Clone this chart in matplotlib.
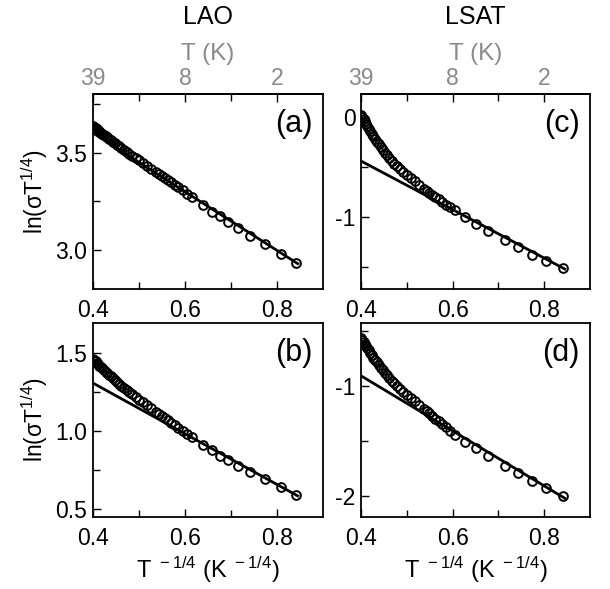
import numpy as np
import matplotlib
matplotlib.use("Agg")
import matplotlib.pyplot as plt
from matplotlib.ticker import MultipleLocator, FixedLocator

plt.rcParams['font.family'] = ['Liberation Sans', 'DejaVu Sans']
plt.rcParams['mathtext.default'] = 'regular'
plt.rcParams['axes.unicode_minus'] = False

# measured temperatures (K)
T_LAO = [2.0, 2.35, 2.8, 3.3, 3.8, 4.35, 4.8, 5.3, 6.0, 7.0,
         7.5, 8, 8.5, 9, 9.5, 10, 10.5, 11, 11.5, 12,
         13, 14, 15, 16, 17, 18, 19, 20, 21, 22, 23, 24, 25, 26,
         27, 28, 29, 30, 31, 32, 33, 34, 35, 36, 37, 38, 39]
T_LSAT = [2.0, 2.4, 2.8, 3.3, 3.85, 4.75, 5.6, 6.5,
          7.5, 8, 8.5, 9, 9.5, 10, 10.5, 11, 11.5, 12,
          13, 14, 15, 16, 17, 18, 19, 20, 21, 22, 23, 24, 25, 26,
          27, 28, 29, 30, 31, 32, 33, 34, 35, 36, 37, 38, 39]

# ln(sigma T^1/4)
y_a = [2.935, 2.979, 3.031, 3.074, 3.112, 3.146, 3.172, 3.197, 3.232, 3.272,
       3.289, 3.308, 3.321, 3.335, 3.347, 3.358, 3.369, 3.379, 3.389, 3.398,
       3.416, 3.431, 3.446, 3.459, 3.472, 3.483, 3.494, 3.504, 3.514, 3.523,
       3.532, 3.541, 3.549, 3.556, 3.564, 3.571, 3.577, 3.584, 3.590, 3.596,
       3.602, 3.608, 3.613, 3.619, 3.624, 3.629, 3.634]
y_b = [0.590, 0.639, 0.690, 0.737, 0.778, 0.812, 0.840, 0.878, 0.910, 0.960,
       0.978, 1.001, 1.020, 1.038, 1.054, 1.070, 1.084, 1.098, 1.110, 1.123,
       1.145, 1.165, 1.184, 1.201, 1.218, 1.235, 1.249, 1.264, 1.277, 1.290,
       1.303, 1.315, 1.327, 1.338, 1.349, 1.360, 1.370, 1.380, 1.390, 1.400,
       1.409, 1.418, 1.427, 1.437, 1.445, 1.454, 1.461]
y_c = [-1.513, -1.443, -1.377, -1.297, -1.230, -1.137, -1.070, -0.997,
       -0.931, -0.902, -0.875, -0.849, -0.824, -0.800, -0.777, -0.756, -0.735, -0.715,
       -0.676, -0.644, -0.612, -0.583, -0.553, -0.522, -0.494, -0.465, -0.437, -0.410,
       -0.382, -0.356, -0.329, -0.301, -0.273, -0.245, -0.218, -0.194, -0.168, -0.143,
       -0.117, -0.091, -0.067, -0.043, -0.021, 0.000, 0.019]
y_d = [-2.000, -1.930, -1.864, -1.794, -1.724, -1.636, -1.567, -1.506,
       -1.450, -1.410, -1.378, -1.349, -1.323, -1.298, -1.272, -1.250, -1.229, -1.209,
       -1.172, -1.141, -1.111, -1.084, -1.056, -1.028, -1.002, -0.977, -0.952, -0.928,
       -0.904, -0.880, -0.857, -0.834, -0.810, -0.787, -0.763, -0.743, -0.720, -0.700,
       -0.678, -0.657, -0.637, -0.617, -0.599, -0.581, -0.565]

# straight-line fits (endpoints)
FIT_X = [0.4, 0.845]
fit_a = [3.600, 2.930]
fit_b = [1.306, 0.585]
fit_c = [-0.440, -1.520]
fit_d = [-0.909, -2.020]

TOP_POS = [0.4, 0.6, 0.8]
TOP_LABELS = ['39', '8', '2']
GRAY = '#8a8a8a'
FS = 16.5

fig = plt.figure(figsize=(6.1, 5.89), dpi=100)
W, H = 610, 589


def make_ax(x0, y0, x1, y1):
    return fig.add_axes([x0 / W, 1 - y1 / H, (x1 - x0) / W, (y1 - y0) / H])


def draw_panel(ax, T, y, fit_y, ylim, major, minor, tag, top=False):
    x = np.array(T) ** -0.25
    ax.plot(x, y, 'o', ms=6.3, mfc='none', mec='black', mew=1.4, zorder=3)
    ax.plot(FIT_X, fit_y, color='black', lw=2.0, zorder=2)
    ax.set_xlim(0.4, 0.9)
    ax.set_ylim(*ylim)
    ax.xaxis.set_major_locator(FixedLocator([0.4, 0.6, 0.8]))
    ax.xaxis.set_minor_locator(FixedLocator([0.5, 0.7]))
    ax.yaxis.set_major_locator(MultipleLocator(major))
    ax.yaxis.set_minor_locator(MultipleLocator(minor))
    ax.tick_params(which='both', direction='in', width=1.0, labelsize=FS,
                   top=False, right=False)
    ax.tick_params(axis='y', pad=4)
    ax.tick_params(axis='x', pad=7)
    ax.tick_params(which='major', length=6)
    ax.tick_params(which='minor', length=5)
    for s in ax.spines.values():
        s.set_linewidth(1.3)
    ax.text(0.955, 0.845, tag, transform=ax.transAxes, ha='right', va='center',
            fontsize=22)
    if top:
        sec = ax.secondary_xaxis('top')
        sec.xaxis.set_major_locator(FixedLocator(TOP_POS))
        sec.xaxis.set_minor_locator(FixedLocator([0.5, 0.7]))
        sec.set_xticklabels(TOP_LABELS)
        sec.tick_params(which='both', direction='in', width=1.0, labelsize=FS,
                        labelcolor=GRAY, pad=3)
        sec.tick_params(which='major', length=6)
        sec.tick_params(which='minor', length=5)
        sec.spines['top'].set_linewidth(1.3)
        sec.set_xlabel('T (K)', fontsize=17.5, color=GRAY, labelpad=5)


ax_a = make_ax(93, 94, 323, 289)
ax_c = make_ax(361, 94, 590, 289)
ax_b = make_ax(93, 323, 323, 517)
ax_d = make_ax(361, 323, 590, 517)

draw_panel(ax_a, T_LAO, y_a, fit_a, (2.8, 3.8), 0.5, 0.25, '(a)', top=True)
draw_panel(ax_c, T_LSAT, y_c, fit_c, (-1.72, 0.23), 1, 0.5, '(c)', top=True)
draw_panel(ax_b, T_LAO, y_b, fit_b, (0.45, 1.69), 0.5, 0.25, '(b)')
draw_panel(ax_d, T_LSAT, y_d, fit_d, (-2.19, -0.43), 1, 0.5, '(d)')

ax_a.yaxis.set_major_formatter(plt.FormatStrFormatter('%.1f'))
ax_b.yaxis.set_major_formatter(plt.FormatStrFormatter('%.1f'))
ax_c.yaxis.set_major_formatter(plt.FormatStrFormatter('%d'))
ax_d.yaxis.set_major_formatter(plt.FormatStrFormatter('%d'))

for ax in (ax_a, ax_b):
    ax.set_ylabel(r'ln($\sigma$T$^{1/4}$)', fontsize=FS, labelpad=4)
for ax in (ax_b, ax_d):
    ax.set_xlabel(r'T$^{\ -1/4}$ (K$^{\ -1/4}$)', fontsize=17, labelpad=4)

fig.text(208 / W, 1 - 17 / H, 'LAO', ha='center', va='center', fontsize=18)
fig.text(475 / W, 1 - 17 / H, 'LSAT', ha='center', va='center', fontsize=18)

fig.savefig('out.png', dpi=100)
